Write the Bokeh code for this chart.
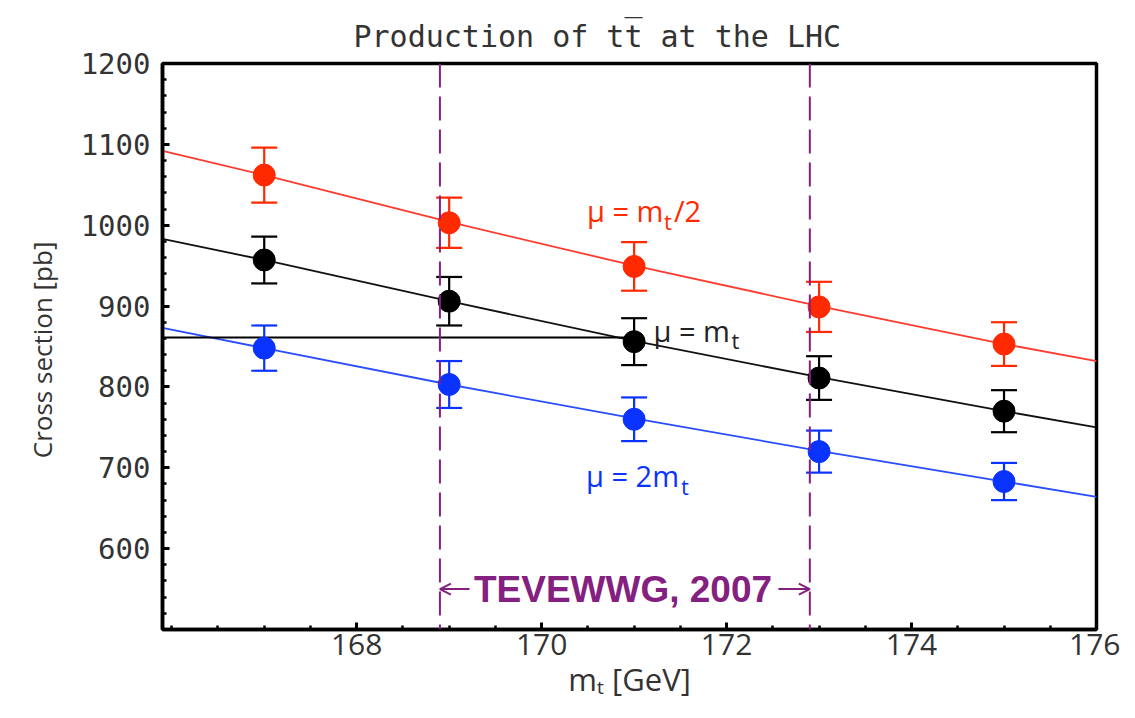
from bokeh.plotting import figure
from bokeh.models import (ColumnDataSource, Whisker, TeeHead, Span, Label, Arrow,
                          OpenHead, FixedTicker)
from bokeh.embed import file_html
from bokeh.resources import INLINE
import numpy as np

# ---------------- data ----------------
mt = [167, 169, 171, 173, 175]
sigma_half = [1062, 1003, 949, 899, 853]      # mu = mt/2
err_half = [34, 31, 30, 31, 27]
sigma_one = [957, 906, 856, 811, 770]          # mu = mt
err_one = [29, 30, 29, 27, 26]
sigma_two = [848, 803, 760, 720, 683]          # mu = 2 mt
err_two = [28, 29, 27, 26, 23]

fit_mt = [165.9, 167, 169, 171, 173, 175, 176]
fit_half = [1092, 1062, 1004, 950, 900, 853, 832]
fit_one = [983, 957, 906, 857, 812, 770, 750]
fit_two = [873, 848, 803, 761, 721, 683, 664]

ref_mt = [165.9, 171]          # horizontal reference line
ref_sigma = [861, 861]
tev_band = [168.9, 172.9]      # TEVEWWG 2007 mass window

x_ticks = [168, 170, 172, 174, 176]
y_ticks = [600, 700, 800, 900, 1000, 1100, 1200]

RED = "#ff2a00"
BLACK = "#000000"
BLUE = "#0a33ff"
PURPLE = "#84207f"

p = figure(width=1120, height=702, x_range=(165.9, 176), y_range=(500, 1200),
           output_backend="svg", toolbar_location=None,
           min_border_left=162, min_border_right=24, min_border_top=63,
           min_border_bottom=63)
p.xgrid.visible = False
p.ygrid.visible = False
p.outline_line_color = "black"
p.outline_line_width = 3.5
p.background_fill_color = "white"
p.border_fill_color = "white"

# title
p.title.text = "Production of tt\u0305 at the LHC"
p.title.align = "left"
p.title.offset = 191
p.title.text_font = "DejaVu Sans Mono"
p.title.text_font_size = "30px"
p.title.text_font_style = "normal"
p.title.text_color = "#333333"
p.title.standoff = 20

minor_x = [v for v in np.arange(166.0, 176.01, 0.5) if v not in x_ticks]
minor_y = [v for v in range(500, 1201, 20) if v not in y_ticks]
p.xaxis.ticker = FixedTicker(ticks=x_ticks, minor_ticks=minor_x)
p.yaxis.ticker = FixedTicker(ticks=y_ticks, minor_ticks=minor_y)

for ax in (p.xaxis, p.yaxis):
    ax.axis_line_color = "black"
    ax.axis_line_width = 3.5
    ax.major_tick_in = 7
    ax.major_tick_out = 0
    ax.minor_tick_in = 4
    ax.minor_tick_out = 0
    ax.major_tick_line_width = 3
    ax.minor_tick_line_width = 2.5
    ax.major_tick_line_color = "black"
    ax.minor_tick_line_color = "black"
    ax.major_label_text_color = "#333333"
    ax.axis_label_text_font = "Open Sans"
    ax.axis_label_text_font_style = "normal"
    ax.axis_label_text_color = "#333333"

p.yaxis.major_label_text_font = "DejaVu Sans Mono"
p.yaxis.major_label_text_font_size = "29px"
p.yaxis.major_label_standoff = 12
p.yaxis.axis_label = "Cross section  [pb]"
p.yaxis.axis_label_text_font_size = "26px"
p.yaxis.axis_label_standoff = 18

p.xaxis.major_label_text_font = "Open Sans"
p.xaxis.major_label_text_font_size = "30px"
p.xaxis.major_label_standoff = 4
p.xaxis.axis_label = "m\u209c [GeV]"
p.xaxis.axis_label_text_font_size = "31px"
p.xaxis.axis_label_standoff = 0

# fit lines
p.line(fit_mt, fit_half, line_color="#ff3b30", line_width=1.8)
p.line(fit_mt, fit_one, line_color="#111111", line_width=1.8)
p.line(fit_mt, fit_two, line_color="#2a4dff", line_width=1.8)
p.line(ref_mt, ref_sigma, line_color="black", line_width=2)

for vals, errs, col in ((sigma_half, err_half, RED), (sigma_one, err_one, BLACK),
                        (sigma_two, err_two, BLUE)):
    src = ColumnDataSource(dict(x=mt, y=vals,
                                lo=[v - e for v, e in zip(vals, errs)],
                                hi=[v + e for v, e in zip(vals, errs)]))
    w = Whisker(source=src, base="x", lower="lo", upper="hi",
                line_color=col, line_width=2.2, level="glyph",
                upper_head=TeeHead(size=26, line_color=col, line_width=2.2),
                lower_head=TeeHead(size=26, line_color=col, line_width=2.2))
    p.add_layout(w)
    p.scatter("x", "y", source=src, size=22, fill_color=col, line_color=col)

for loc in tev_band:
    p.add_layout(Span(location=loc, dimension="height", line_color=PURPLE,
                      line_width=2, line_dash="24 9"))

# TEVEWWG annotation
p.add_layout(Label(x=170.88, y=550, text="TEVEWWG, 2007", text_align="center",
                   text_baseline="middle", text_font="Liberation Sans",
                   text_font_style="bold", text_font_size="37px",
                   text_color=PURPLE))
p.add_layout(Arrow(x_start=169.22, y_start=550, x_end=tev_band[0], y_end=550,
                   line_color=PURPLE, line_width=2,
                   end=OpenHead(size=11, line_color=PURPLE, line_width=2)))
p.add_layout(Arrow(x_start=172.56, y_start=550, x_end=tev_band[1], y_end=550,
                   line_color=PURPLE, line_width=2,
                   end=OpenHead(size=11, line_color=PURPLE, line_width=2)))

# curve labels (main text + subscript)
def mu_label(x, y, main, tail, col, sub_dx, tail_dx):
    common = dict(text_font="Open Sans", text_color=col, text_baseline="middle",
                  text_align="left")
    p.add_layout(Label(x=x, y=y, text=main, text_font_size="29px", **common))
    p.add_layout(Label(x=x, y=y, x_offset=sub_dx, y_offset=-10, text="t",
                       text_font_size="22px", **common))
    if tail:
        p.add_layout(Label(x=x, y=y, x_offset=tail_dx, text=tail,
                           text_font_size="29px", **common))

mu_label(170.49, 1018, "\u03bc = m", "/2", RED, 77, 87)
mu_label(171.21, 870, "\u03bc = m", "", "#222222", 78, 0)
mu_label(170.48, 690, "\u03bc = 2m", "", BLUE, 95, 0)

open("out.html", "w").write(file_html(p, INLINE))
